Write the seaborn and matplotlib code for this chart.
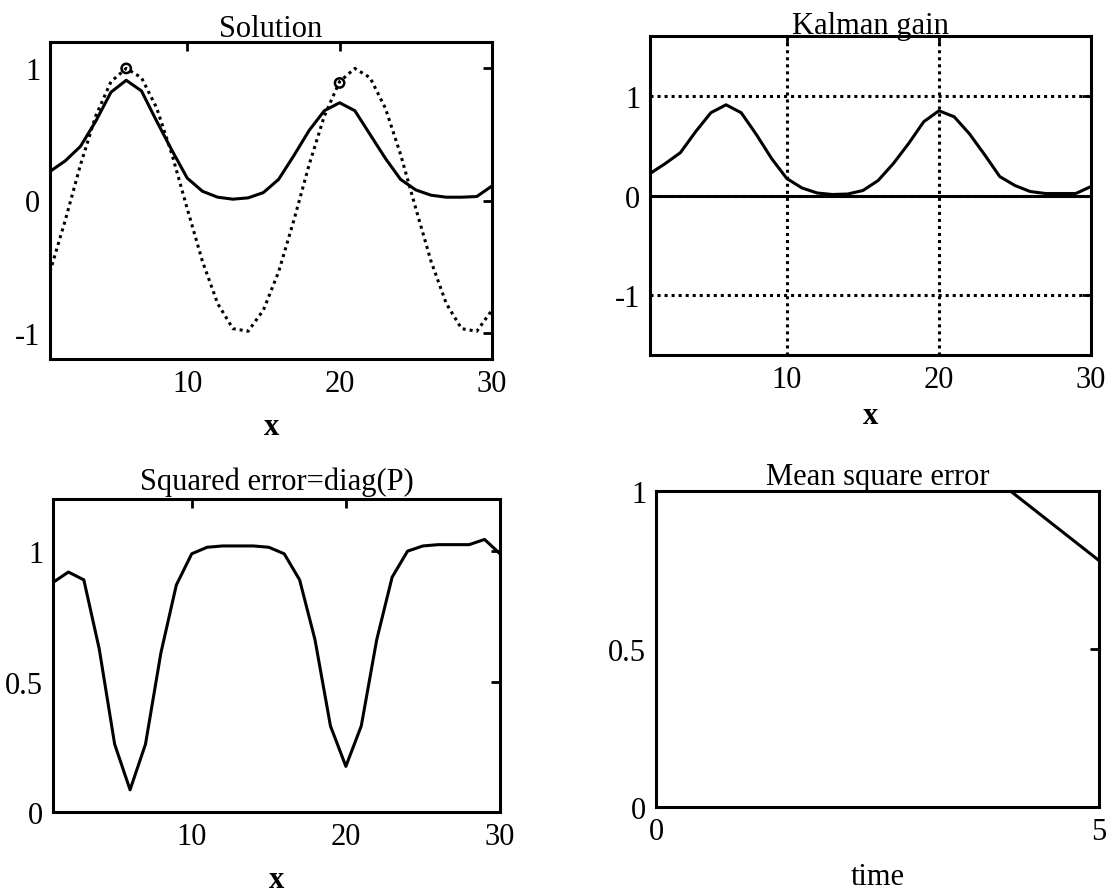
import matplotlib
matplotlib.use("Agg")
import matplotlib.pyplot as plt
import seaborn as sns
import pandas as pd

# ---------------- data ----------------
x = list(range(1, 31))
true_solution = [-0.54, -0.15, 0.27, 0.64, 0.90, 1.00, 0.93, 0.70, 0.35, -0.06,
                 -0.46, -0.78, -0.97, -0.99, -0.83, -0.54, -0.15, 0.27, 0.64, 0.90,
                 1.00, 0.93, 0.70, 0.35, -0.06, -0.46, -0.78, -0.97, -0.99, -0.83]
estimate = [0.22, 0.30, 0.41, 0.60, 0.82, 0.91, 0.83, 0.60, 0.38, 0.17,
            0.07, 0.025, 0.01, 0.02, 0.06, 0.16, 0.34, 0.53, 0.68, 0.74,
            0.68, 0.50, 0.32, 0.16, 0.08, 0.04, 0.025, 0.025, 0.03, 0.11]
obs_x = [6, 20]
obs_y = [1.00, 0.89]
kalman_gain = [0.22, 0.32, 0.43, 0.64, 0.83, 0.91, 0.83, 0.61, 0.37, 0.17,
               0.075, 0.025, 0.01, 0.015, 0.05, 0.15, 0.32, 0.52, 0.74, 0.85,
               0.79, 0.62, 0.41, 0.19, 0.10, 0.04, 0.02, 0.02, 0.02, 0.09]
squared_error = [0.88, 0.92, 0.89, 0.625, 0.26, 0.085, 0.26, 0.61, 0.87, 0.99,
                 1.015, 1.02, 1.02, 1.02, 1.015, 0.99, 0.89, 0.66, 0.33, 0.175,
                 0.33, 0.66, 0.90, 1.00, 1.02, 1.025, 1.025, 1.025, 1.045, 0.99]
time = [0, 1, 2, 3, 4, 5]
mse = [1.0, 1.0, 1.0, 1.0, 1.0, 0.78]

x_ticks = [10, 20, 30]
x_tick_labels = ["10", "20", "30"]

# ---------------- style ----------------
sns.set_theme(style="white")
plt.rcParams["font.family"] = ["Liberation Serif", "DejaVu Serif"]
plt.rcParams["axes.edgecolor"] = "black"
plt.rcParams["text.color"] = "black"
plt.rcParams["axes.labelcolor"] = "black"
plt.rcParams["axes.titlecolor"] = "black"
plt.rcParams["xtick.color"] = "black"
plt.rcParams["ytick.color"] = "black"
plt.rcParams["xtick.labelcolor"] = "black"
plt.rcParams["ytick.labelcolor"] = "black"

W, H = 1114, 895
fig = plt.figure(figsize=(W / 100, H / 100), dpi=100)
fig.patch.set_facecolor("white")


def make_axes(l, r, t, b):
    ax = fig.add_axes([l / W, 1 - b / H, (r - l) / W, (b - t) / H])
    ax.set_facecolor("white")
    for s in ax.spines.values():
        s.set_linewidth(2.2)
        s.set_color("black")
    ax.tick_params(direction="in", length=6.5, width=2, top=True, right=True,
                   labelsize=22, pad=7, colors="black")
    return ax


FS = 22
LW = 2.2
DOTS = (0, (1, 1.3))

# Panel 1: Solution
ax1 = make_axes(50, 492, 43, 360)
df1 = pd.DataFrame({"x": x, "true": true_solution, "est": estimate})
sns.lineplot(data=df1, x="x", y="true", ax=ax1, color="black", linestyle=DOTS, linewidth=2.2)
sns.lineplot(data=df1, x="x", y="est", ax=ax1, color="black", linewidth=LW)
sns.scatterplot(x=obs_x, y=obs_y, ax=ax1, marker="o", s=45, facecolor="none",
                edgecolor="black", linewidth=1.8, zorder=5)
ax1.set_xlim(1, 30)
ax1.set_ylim(-1.2, 1.2)
ax1.set_xticks(x_ticks, x_tick_labels)
ax1.set_yticks([-1, 0, 1], ["-1", "0", "1"])
ax1.set_title("Solution", fontsize=FS, pad=4)
ax1.set_xlabel("x", fontsize=FS, fontweight="bold", labelpad=10)
ax1.set_ylabel("")

# Panel 2: Kalman gain
ax2 = make_axes(650, 1091, 37, 356)
df2 = pd.DataFrame({"x": x, "k": kalman_gain})
ax2.set_xlim(1, 30)
ax2.set_ylim(-1.6, 1.6)
ax2.set_xticks(x_ticks, x_tick_labels)
ax2.set_yticks([-1, 0, 1], ["-1", "0", "1"])
ax2.grid(True, linestyle=DOTS, color="black", linewidth=2.2)
ax2.axhline(0, color="black", linewidth=LW)
sns.lineplot(data=df2, x="x", y="k", ax=ax2, color="black", linewidth=LW)
ax2.set_title("Kalman gain", fontsize=FS, pad=2)
ax2.set_xlabel("x", fontsize=FS, fontweight="bold", labelpad=5)
ax2.set_ylabel("")

# Panel 3: Squared error
ax3 = make_axes(53, 500, 500, 813)
df3 = pd.DataFrame({"x": x, "p": squared_error})
sns.lineplot(data=df3, x="x", y="p", ax=ax3, color="black", linewidth=LW)
ax3.set_xlim(1, 30)
ax3.set_ylim(0, 1.2)
ax3.set_xticks(x_ticks, x_tick_labels)
ax3.set_yticks([0, 0.5, 1], ["0", "0.5", "1"])
ax3.set_title("Squared error=diag(P)", fontsize=FS, pad=7)
ax3.set_xlabel("x", fontsize=FS, fontweight="bold", labelpad=10)
ax3.set_ylabel("")

# Panel 4: Mean square error
ax4 = make_axes(656, 1099, 492, 808)
df4 = pd.DataFrame({"time": time, "mse": mse})
sns.lineplot(data=df4, x="time", y="mse", ax=ax4, color="black", linewidth=LW)
ax4.set_xlim(0, 5)
ax4.set_ylim(0, 1)
ax4.set_xticks([0, 5], ["0", "5"])
ax4.set_yticks([0, 0.5, 1], ["0", "0.5", "1"])
ax4.set_title("Mean square error", fontsize=FS, pad=5)
ax4.set_xlabel("time", fontsize=FS, labelpad=12)
ax4.set_ylabel("")

fig.savefig("out.png", dpi=100, facecolor="white")
